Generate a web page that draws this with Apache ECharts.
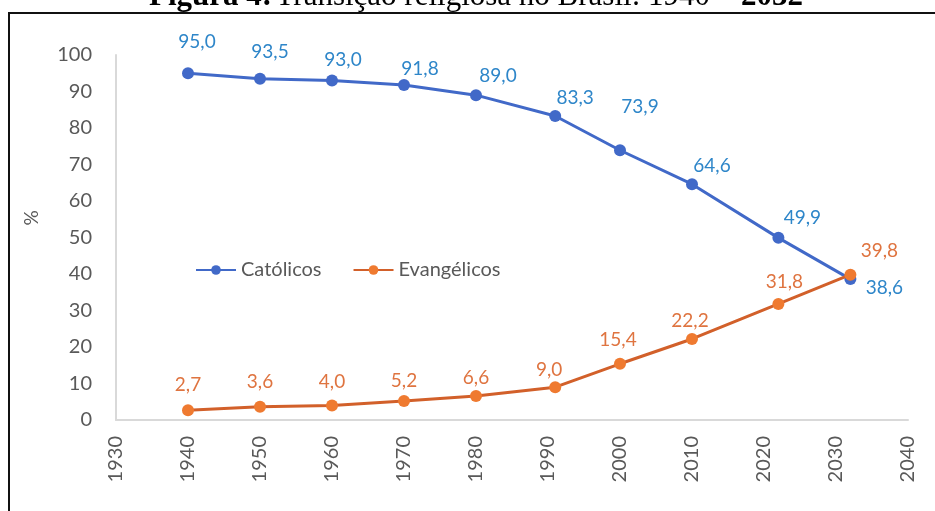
<!DOCTYPE html>
<html>
<head>
<meta charset="utf-8">
<script src="https://cdn.jsdelivr.net/npm/echarts@6/dist/echarts.min.js"></script>
<style>
  html, body { margin: 0; padding: 0; background: #fff; }
  #chart { width: 935px; height: 511px; }
</style>
</head>
<body>
<div id="chart"></div>
<script>
// Census / projection years
const years = [1940, 1950, 1960, 1970, 1980, 1991, 2000, 2010, 2022, 2032];
// Share of population (%)
const catolicos = [95.0, 93.5, 93.0, 91.8, 89.0, 83.3, 73.9, 64.6, 49.9, 38.6];
const evangelicos = [2.7, 3.6, 4.0, 5.2, 6.6, 9.0, 15.4, 22.2, 31.8, 39.8];
const seriesNames = ['Católicos', 'Evangélicos'];

// Label nudges (px) so the value labels sit clear of the lines
const catLabelShift = [[9, -4], [10, 1], [11, 7], [16, 11], [22, 8], [20, 9], [20, -16], [20, 9], [24, 8], [34, 36]];
const evaLabelShift = [[0, 2], [0, 3], [0, 4], [0, 7], [0, 9], [-6, 10], [-2, 4], [-2, 9], [6, 5], [29, 4]];

const fontUI = 'Lato, "Open Sans", sans-serif';
const fontTitle = '"Liberation Serif", "Times New Roman", serif';
const fmt = v => v.toFixed(1).replace('.', ',');

function buildData(vals, shifts) {
  return vals.map((v, i) => ({
    value: [years[i], v],
    label: { offset: shifts[i] }
  }));
}

const chart = echarts.init(document.getElementById('chart'), null, { renderer: 'canvas' });

chart.setOption({
  animation: false,
  backgroundColor: '#ffffff',
  grid: { left: 116, right: 27, top: 55, bottom: 91 },
  legend: {
    left: 190, top: 255,
    itemWidth: 40, itemHeight: 12, itemGap: 31,
    textStyle: { fontFamily: fontUI, fontSize: 20, color: '#595959' },
    data: seriesNames
  },
  xAxis: {
    type: 'value', min: 1930, max: 2040, interval: 10,
    splitLine: { show: false },
    axisTick: { show: false },
    axisLine: { lineStyle: { color: '#d9d9d9', width: 2 } },
    axisLabel: {
      rotate: 90, margin: 16, color: '#595959', fontFamily: fontUI, fontSize: 20,
      formatter: v => String(v)
    }
  },
  yAxis: {
    type: 'value', min: 0, max: 100, interval: 10,
    splitLine: { show: false },
    axisTick: { show: false },
    axisLine: { show: true, lineStyle: { color: '#d9d9d9', width: 2 } },
    axisLabel: { margin: 24, color: '#595959', fontFamily: fontUI, fontSize: 20 }
  },
  series: [
    {
      name: seriesNames[0], type: 'line', z: 2,
      data: buildData(catolicos, catLabelShift),
      symbol: 'circle', symbolSize: 12,
      lineStyle: { color: '#4169c8', width: 3 },
      itemStyle: { color: '#4169c8' },
      label: {
        show: true, position: 'top', distance: 12,
        formatter: p => fmt(p.value[1]),
        color: '#2e86c9', fontFamily: fontUI, fontSize: 19
      }
    },
    {
      name: seriesNames[1], type: 'line', z: 3,
      data: buildData(evangelicos, evaLabelShift),
      symbol: 'circle', symbolSize: 12,
      lineStyle: { color: '#d2602a', width: 3 },
      itemStyle: { color: '#ef7a30' },
      label: {
        show: true, position: 'top', distance: 12,
        formatter: p => fmt(p.value[1]),
        color: '#df7440', fontFamily: fontUI, fontSize: 19
      }
    }
  ],
  graphic: [
    {
      type: 'rect', silent: true, z: 100,
      shape: { x: 9, y: 13, width: 940, height: 520 },
      style: { fill: null, stroke: '#111', lineWidth: 2 }
    },
    {
      type: 'text', silent: true, z: 100,
      x: 32, y: 218, rotation: Math.PI / 2,
      style: {
        text: '%', align: 'center', verticalAlign: 'middle',
        fontFamily: fontUI, fontSize: 19, fill: '#595959'
      }
    },
    {
      type: 'text', silent: true, z: 100,
      x: 476, y: 12,
      style: {
        text: '{b|Figura 4:} {r|Transição religiosa no Brasil: 1940 – }{b|2032}',
        align: 'center', verticalAlign: 'bottom',
        rich: {
          b: { fontFamily: fontTitle, fontWeight: 'bold', fontSize: 31, fill: '#000' },
          r: { fontFamily: fontTitle, fontSize: 31, fill: '#000' }
        }
      }
    }
  ]
});
</script>
</body>
</html>
